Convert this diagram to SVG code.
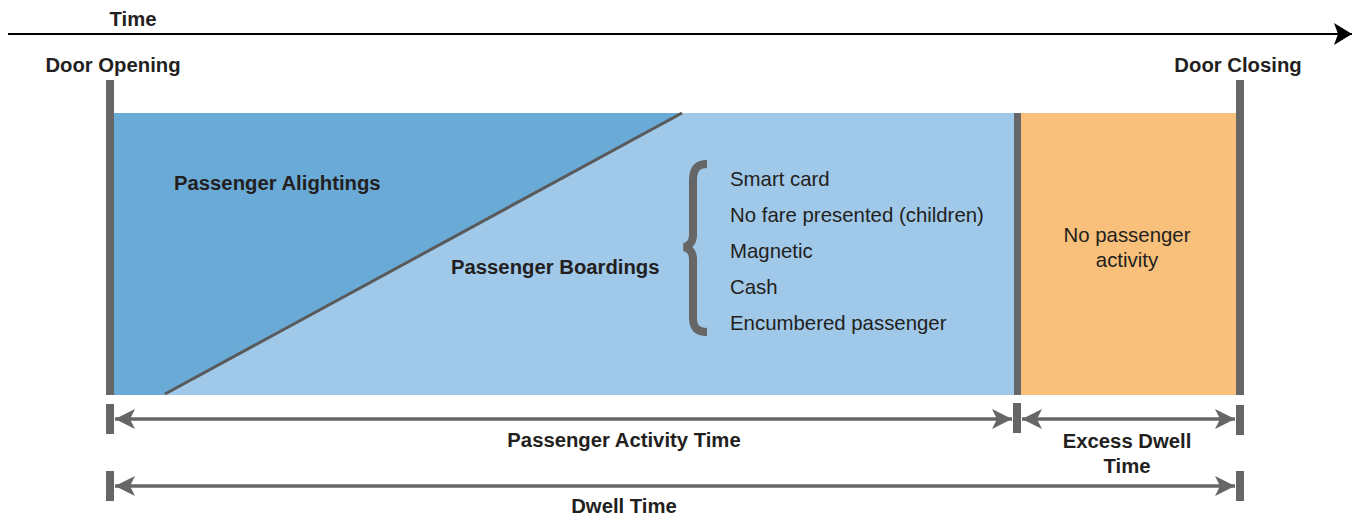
<svg xmlns="http://www.w3.org/2000/svg" width="1356" height="517" viewBox="0 0 1356 517">
<style>
.b{font-family:"Liberation Sans",Arial,sans-serif;font-weight:bold;font-size:20.3px;fill:#231f20}
.r{font-family:"Liberation Sans",Arial,sans-serif;font-size:20.4px;fill:#231f20}
.bar{fill:#666666}
.dim{stroke:#666666;stroke-width:3.5;fill:none}
</style>
<defs>
<marker id="ah" viewBox="0 0 20 20" refX="20" refY="10" markerWidth="20" markerHeight="20" markerUnits="userSpaceOnUse" orient="auto-start-reverse">
<path d="M0,0 L20,10 L0,20 L5,10 Z" fill="#666666"/>
</marker>
<marker id="ta" viewBox="0 0 18 22" refX="18" refY="11" markerWidth="18" markerHeight="22" markerUnits="userSpaceOnUse" orient="auto">
<path d="M0,0 L18,11 L0,22 L4,11 Z" fill="#000"/>
</marker>
</defs>
<g id="time-axis">
<line x1="8" y1="34" x2="1352" y2="34" stroke="#000" stroke-width="2.2" marker-end="url(#ta)"/>
<text class="b" x="133" y="26" text-anchor="middle">Time</text>
</g>
<g id="passenger-boardings">
<rect x="114" y="113" width="901" height="282" fill="#a0c8e8"/>
<text class="b" x="451" y="274">Passenger Boardings</text>
</g>
<g id="passenger-alightings">
<polygon points="114,113 682,113 165,395 114,395" fill="#6aaad6"/>
<line x1="165" y1="394" x2="682" y2="113" stroke="#5a5a5a" stroke-width="3"/>
<text class="b" x="174" y="190">Passenger Alightings</text>
</g>
<g id="fare-types">
<path d="M707,164 C697,164 693,170 693,180 L693,235 C693,242 689,246 684,247 C689,248 693,252 693,259 L693,318 C693,327 697,332 707,332" fill="none" stroke="#666666" stroke-width="8"/>
<text class="r" x="730" y="186">Smart card</text>
<text class="r" x="730" y="222">No fare presented (children)</text>
<text class="r" x="730" y="258">Magnetic</text>
<text class="r" x="730" y="294">Cash</text>
<text class="r" x="730" y="330">Encumbered passenger</text>
</g>
<g id="no-activity">
<rect x="1021" y="113" width="215" height="282" fill="#f8c07a"/>
<text class="r" x="1127" y="242" text-anchor="middle">No passenger</text>
<text class="r" x="1127" y="267" text-anchor="middle">activity</text>
</g>
<g id="door-opening">
<rect class="bar" x="106" y="80" width="8" height="315"/>
<text class="b" x="113" y="72" text-anchor="middle">Door Opening</text>
</g>
<g id="activity-end">
<rect class="bar" x="1014" y="113" width="7" height="282"/>
</g>
<g id="door-closing">
<rect class="bar" x="1236" y="80" width="8" height="315"/>
<text class="b" x="1238" y="72" text-anchor="middle">Door Closing</text>
</g>
<g id="connectors">
<rect class="bar" x="106" y="404" width="8" height="30"/>
<rect class="bar" x="1013" y="403" width="8" height="30"/>
<rect class="bar" x="1236" y="405" width="8" height="30"/>
<line class="dim" x1="115" y1="419" x2="1012" y2="419" marker-start="url(#ah)" marker-end="url(#ah)"/>
<line class="dim" x1="1022" y1="419" x2="1235" y2="419" marker-start="url(#ah)" marker-end="url(#ah)"/>
<rect class="bar" x="106" y="471" width="8" height="30"/>
<rect class="bar" x="1236" y="471" width="8" height="30"/>
<line class="dim" x1="115" y1="486" x2="1235" y2="486" marker-start="url(#ah)" marker-end="url(#ah)"/>
</g>
<g id="labels">
<text class="b" x="624" y="447" text-anchor="middle">Passenger Activity Time</text>
<text class="b" x="1127" y="448" text-anchor="middle">Excess Dwell</text>
<text class="b" x="1127" y="473" text-anchor="middle">Time</text>
<text class="b" x="624" y="513" text-anchor="middle">Dwell Time</text>
</g>
</svg>
